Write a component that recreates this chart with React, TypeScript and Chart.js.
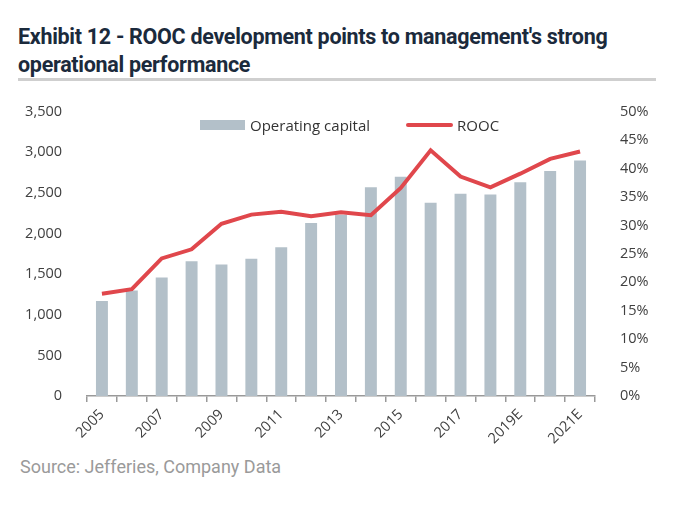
import React, { useEffect, useRef } from "react";
import { Chart, registerables } from "chart.js";

Chart.register(...registerables);

const categories = [
  "2005", "2006", "2007", "2008", "2009", "2010", "2011", "2012", "2013",
  "2014", "2015", "2016", "2017", "2018", "2019E", "2020E", "2021E",
];
const operatingCapital = [
  1170, 1300, 1460, 1660, 1620, 1690, 1830, 2130, 2230,
  2570, 2700, 2380, 2490, 2480, 2630, 2770, 2900,
];
const rooc = [
  18.0, 18.8, 24.2, 25.8, 30.3, 31.9, 32.4, 31.6, 32.3,
  31.8, 36.6, 43.2, 38.6, 36.7, 39.1, 41.7, 43.0,
];
const barLabel = "Operating capital";
const lineLabel = "ROOC";
const title1 = "Exhibit 12 - ROOC development points to management's strong";
const title2 = "operational performance";
const source = "Source: Jefferies, Company Data";

const BAR_COLOR = "#b3c0c9";
const LINE_COLOR = "#e0474c";
const TICK_COLOR = "#404040";
const tickFont = { family: "'Open Sans', sans-serif", size: 14.5 };

export default function App() {
  const ref = useRef<HTMLCanvasElement | null>(null);

  useEffect(() => {
    if (!ref.current) return;
    const chart = new Chart(ref.current, {
      type: "bar",
      data: {
        labels: categories,
        datasets: [
          {
            type: "line",
            label: lineLabel,
            data: rooc,
            yAxisID: "y1",
            borderColor: LINE_COLOR,
            backgroundColor: LINE_COLOR,
            borderWidth: 4,
            pointRadius: 0,
            tension: 0,
            order: 0,
          },
          {
            type: "bar",
            label: barLabel,
            data: operatingCapital,
            yAxisID: "y",
            backgroundColor: BAR_COLOR,
            barPercentage: 0.4,
            categoryPercentage: 1,
            order: 1,
          },
        ],
      },
      options: {
        animation: false,
        responsive: false,
        maintainAspectRatio: false,
        layout: { padding: { top: 17, left: 0, right: 0, bottom: 0 } },
        plugins: {
          legend: { display: false },
          tooltip: { enabled: false },
        },
        scales: {
          x: {
            offset: true,
            grid: {
              offset: true,
              drawOnChartArea: false,
              drawTicks: true,
              tickLength: 6,
              color: "#999",
              lineWidth: 1.5,
            },
            border: { color: "#999", width: 1.5 },
            ticks: {
              autoSkip: false,
              minRotation: 45,
              maxRotation: 45,
              color: TICK_COLOR,
              font: { ...tickFont, size: 14.5 },
              padding: 4,
              callback: (_v: any, i: number) => (i % 2 === 0 ? categories[i] : ""),
            },
            afterFit: (s: any) => {
              s.height = 54;
            },
          },
          y: {
            position: "left",
            min: 0,
            max: 3500,
            grid: { display: false },
            border: { display: false },
            ticks: {
              stepSize: 500,
              color: TICK_COLOR,
              font: tickFont,
              padding: 17,
              callback: (v: any) => Number(v).toLocaleString("en-US"),
            },
            afterFit: (s: any) => {
              s.width = 87;
            },
          },
          y1: {
            position: "right",
            min: 0,
            max: 50,
            grid: { display: false },
            border: { display: false },
            ticks: {
              stepSize: 5,
              color: TICK_COLOR,
              font: tickFont,
              padding: 17,
              callback: (v: any) => v + "%",
            },
            afterFit: (s: any) => {
              s.width = 105;
            },
          },
        },
      },
    });
    return () => chart.destroy();
  }, []);

  return (
    <div style={{ position: "absolute", left: 0, top: 0, width: 700, height: 525, background: "#fff", overflow: "hidden" }}>
      <div
        style={{
          position: "absolute",
          left: 18,
          top: 23,
          fontFamily: "Roboto, sans-serif",
          fontWeight: 700,
          fontSize: 21.5,
          lineHeight: "28px",
          color: "#1b2a3c",
          letterSpacing: -0.3,
        }}
      >
        <div>{title1}</div>
        <div>{title2}</div>
      </div>
      <div style={{ position: "absolute", left: 18, top: 78, width: 638, height: 3, background: "#cfcfcf" }} />
      <canvas
        ref={ref}
        width={700}
        height={364}
        style={{ position: "absolute", left: 0, top: 86, width: 700, height: 364 }}
      />
      <div
        style={{
          position: "absolute",
          left: 200,
          top: 115,
          display: "flex",
          alignItems: "center",
          fontFamily: "'Open Sans', sans-serif",
          fontSize: 15,
          color: "#333",
        }}
      >
        <span style={{ display: "inline-block", width: 45, height: 10, background: BAR_COLOR, marginRight: 5 }} />
        <span>{barLabel}</span>
        <span style={{ display: "inline-block", width: 47, height: 4, background: LINE_COLOR, marginLeft: 36, marginRight: 4, borderRadius: 2 }} />
        <span>{lineLabel}</span>
      </div>
      <div
        style={{
          position: "absolute",
          left: 20,
          top: 456,
          fontFamily: "Roboto, sans-serif",
          fontSize: 18,
          color: "#9a9a9a",
        }}
      >
        {source}
      </div>
    </div>
  );
}
